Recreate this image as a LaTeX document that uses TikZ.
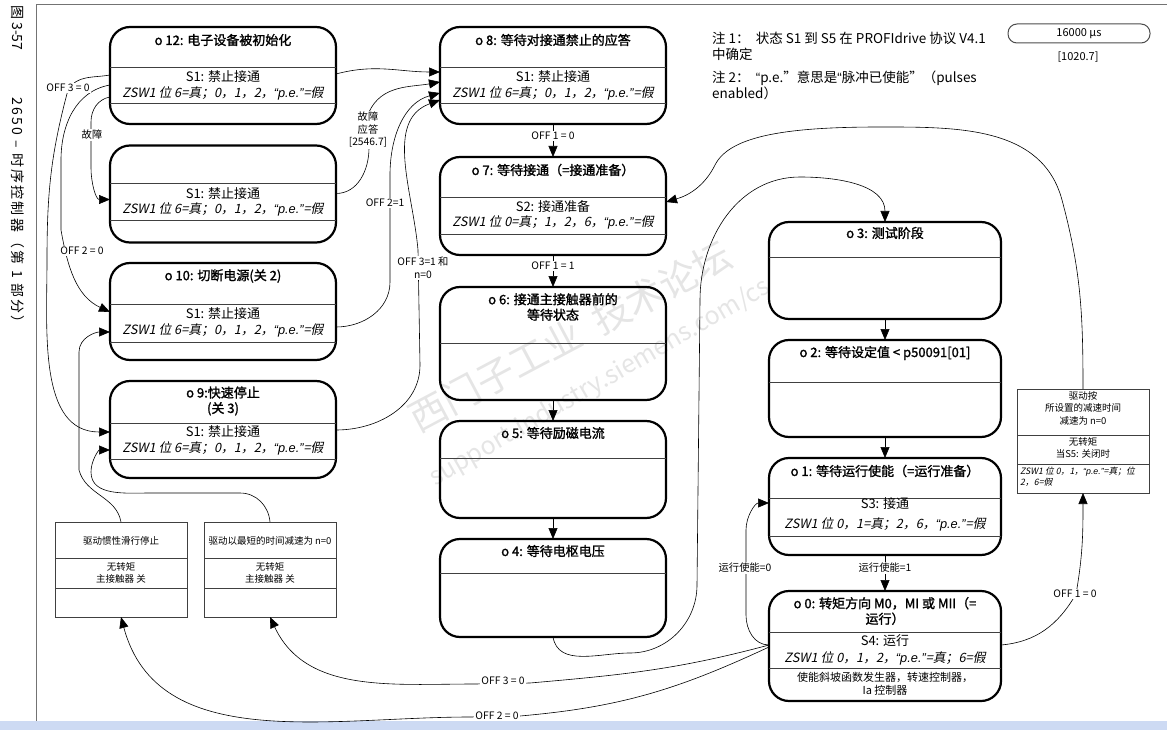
\documentclass[tikz,border=0pt]{standalone}
\usepackage{fontspec}
\setmainfont{Noto Sans CJK SC}[AutoFakeBold=1.5, AutoFakeSlant=0.2]
\newfontfamily\capfont{Noto Sans CJK SC}[LetterSpace=16]
\newfontfamily\latinfont{Liberation Sans}
\newcommand{\pequote}{{\latinfont “p.e.”}}
\usepackage{xcolor}
\usepackage{tikz}
\usetikzlibrary{arrows.meta, positioning, calc}
\definecolor{stripblue}{RGB}{205,218,243}

\begin{document}
\begin{tikzpicture}[x=1pt, y=-1pt,
    statebox/.style={draw, line width=2.2pt, rounded corners=20pt, minimum width=226pt, minimum height=97pt, inner sep=0pt, outer sep=0pt},
    statewide/.style={statebox, minimum width=232pt},
    infobox/.style={draw=black!75, line width=0.8pt, minimum width=132pt, minimum height=95pt, inner sep=0pt, outer sep=0pt},
    divline/.style={black!75, line width=0.8pt},
    ttl/.style={font=\fontsize{13}{15.5}\selectfont\bfseries, align=center, inner sep=0pt},
    srow/.style={font=\fontsize{13}{15}\selectfont, inner sep=0pt},
    irow/.style={font=\fontsize{12.8}{15}\selectfont\itshape, inner sep=0pt},
    infotxt/.style={font=\fontsize{9.5}{12.5}\selectfont, align=center, inner sep=0pt},
    lbl/.style={font=\fontsize{10.3}{12.5}\selectfont, align=center, fill=white, inner sep=1pt},
    trans/.style={-{Triangle[length=11pt, width=9pt]}, line width=0.6pt},
  ]
  \useasboundingbox (0,0) rectangle (1167,730);

  % Page frame and screen strip
  \draw[black!55, line width=1pt] (1167,5) -- (36,5) -- (36,721);
  \fill[stripblue] (0,721) rectangle (1167,730);

  % Side caption (rotated)
  \node[rotate=-90, anchor=west, font=\fontsize{14}{16}\selectfont, inner sep=0pt] (cap1) at (18,5) {图 3-57};
  \node[rotate=-90, anchor=west, font=\fontsize{14}{16}\selectfont\capfont, inner sep=0pt] (cap2) at (18,97) {2650 – 时序控制器（第 1 部分）};

  % Watermark
  \node[rotate=28, text=black!10, font=\fontsize{38}{40}\selectfont, inner sep=0pt] (wm1) at (570,336) {西门子工业\ \ 技术论坛};
  \node[rotate=30, text=black!10, font=\fontsize{25}{27}\selectfont, inner sep=0pt] (wm2) at (600,383) {support.industry.siemens.com/cs};

  % State boxes, left column
  \node[statebox] (s12) at (223,75.5) {};
  \node[statebox] (sfault) at (223,194) {};
  \node[statebox] (s10) at (223,311.5) {};
  \node[statebox] (s9) at (223,429.5) {};
  % middle column
  \node[statebox] (s8) at (553,75.5) {};
  \node[statebox, minimum height=98pt] (s7) at (553,206) {};
  \node[statebox, minimum height=113pt] (s6) at (553,343.5) {};
  \node[statebox] (s5) at (553,469.5) {};
  \node[statebox, minimum height=98pt] (s4) at (553,588) {};
  % right column
  \node[statewide] (s3) at (885,270.5) {};
  \node[statewide] (s2) at (885,388.5) {};
  \node[statewide] (s1) at (885,506.5) {};
  \node[statewide, minimum height=110pt] (s0) at (885,646) {};

  % Information boxes
  \node[infobox] (rcoast) at (121,569.5) {};
  \node[infobox] (rquick) at (270,569.5) {};
  \node[infobox, minimum height=104pt] (rramp) at (1083,441) {};

  % Compartment lines (box / distance from top)
  \foreach \bn/\off in {s12/40, s12/76, sfault/38, sfault/75, s10/41, s10/79, s9/42, s9/78,
      s8/40, s8/76, s7/40, s7/77, s6/56, s5/37, s4/34, s3/35, s2/42, s1/40, s1/78, s0/41, s0/77,
      rcoast/36, rcoast/66, rquick/36, rquick/66, rramp/46, rramp/75} {
    \draw[divline] ($(\bn.north west)+(0,\off)$) -- ($(\bn.north east)+(0,\off)$);
  }

  % Titles
  \node[ttl] (t12) at ($(s12.north)+(0,13)$) {o 12: 电子设备被初始化};
  \node[ttl] (t10) at ($(s10.north)+(0,13)$) {o 10: 切断电源(关 2)};
  \node[ttl] (t9) at ($(s9.north)+(0,20)$) {o 9:快速停止\\(关 3)};
  \node[ttl] (t8) at ($(s8.north)+(0,13)$) {o 8: 等待对接通禁止的应答};
  \node[ttl] (t7) at ($(s7.north)+(0,13)$) {o 7: 等待接通（=接通准备）};
  \node[ttl] (t6) at ($(s6.north)+(0,20)$) {o 6: 接通主接触器前的\\等待状态};
  \node[ttl] (t5) at ($(s5.north)+(0,12)$) {o 5: 等待励磁电流};
  \node[ttl] (t4) at ($(s4.north)+(0,12)$) {o 4: 等待电枢电压};
  \node[ttl] (t3) at ($(s3.north)+(0,11)$) {o 3: 测试阶段};
  \node[ttl] (t2) at ($(s2.north)+(0,13)$) {o 2: 等待设定值 < p50091[01]};
  \node[ttl] (t1) at ($(s1.north)+(0,13)$) {o 1: 等待运行使能（=运行准备）};
  \node[ttl] (t0) at ($(s0.north)+(0,20)$) {o 0: 转矩方向 M0，MI 或 MII（=\\运行）};

  % Status rows S1 (switching on inhibited)
  \foreach \bn/\off in {s12/50, sfault/48, s10/51, s9/51, s8/50} {
    \node[srow] at ($(\bn.north)+(0,\off)$) {S1: 禁止接通};
    \node[irow] at ($(\bn.north)+(0,\off+16)$) {ZSW1 位 6=真；0，1，2，\pequote=假};
  }
  \node[srow] (r7) at ($(s7.north)+(0,50)$) {S2: 接通准备};
  \node[irow] (z7) at ($(s7.north)+(0,65)$) {ZSW1 位 0=真；1，2，6，\pequote=假};
  \node[srow] (r1) at ($(s1.north)+(0,46)$) {S3: 接通};
  \node[irow] (z1) at ($(s1.north)+(0,66)$) {ZSW1 位 0，1=真；2，6，\pequote=假};
  \node[srow] (r0) at ($(s0.north)+(0,50)$) {S4: 运行};
  \node[irow] (z0) at ($(s0.north)+(0,67)$) {ZSW1 位 0，1，2，\pequote=真；6=假};
  \node[font=\fontsize{11}{13}\selectfont, align=center, inner sep=0pt] (f0) at ($(s0.north)+(0,92.5)$) {使能斜坡函数发生器，转速控制器，\\Ia 控制器};

  % Information box texts
  \node[infotxt] (c1) at ($(rcoast.north)+(0,19)$) {驱动惯性滑行停止};
  \node[infotxt] (c2) at ($(rcoast.north)+(0,51)$) {无转矩\\主接触器 关};
  \node[infotxt] (q1) at ($(rquick.north)+(0,19)$) {驱动以最短的时间减速为 n=0};
  \node[infotxt] (q2) at ($(rquick.north)+(0,51)$) {无转矩\\主接触器 关};
  \node[infotxt] (p1) at ($(rramp.north)+(0,19)$) {驱动按\\所设置的减速时间\\减速为 n=0};
  \node[infotxt] (p2) at ($(rramp.north)+(0,59)$) {无转矩\\当S5: 关闭时};
  \node[anchor=north west, align=left, font=\fontsize{8.8}{10.5}\selectfont\itshape, inner sep=0pt] (p3) at ($(rramp.north west)+(3,78)$) {ZSW1 位 0，1，\pequote=真；位\\2，6=假};

  % Notes and cycle time
  \node[anchor=north west, align=left, font=\fontsize{13.5}{16}\selectfont, inner sep=0pt] (note1) at (712,32) {注 1：\ \ 状态 S1 到 S5 在 PROFIdrive 协议 V4.1\\中确定};
  \node[anchor=north west, align=left, font=\fontsize{13.5}{16}\selectfont, inner sep=0pt] (note2) at (712,71) {注 2：\ \ {\latinfont “}p.e."意思是{\latinfont “}脉冲已使能"（pulses\\enabled）};
  \node[draw=black!70, line width=1pt, rounded corners=9pt, minimum width=142pt, minimum height=19pt, inner sep=0pt, font=\fontsize{11}{13}\selectfont] (tcyc) at (1079,33.5) {16000 µs};
  \node[font=\fontsize{11}{13}\selectfont, inner sep=0pt] (tpar) at (1078,57) {[1020.7]};

  % Transitions into o 8
  \draw[trans] ($(s12.north east)+(0,47)$) to[out=15,in=180] ($(s8.north west)+(0,45)$);
  \draw[trans] ($(sfault.north east)+(0,48)$) to[out=0,in=-90] (369,148) -- (369,112) to[out=65,in=190] ($(s8.north west)+(0,55)$);
  \draw[trans] ($(s10.north east)+(0,64)$) to[out=0,in=-90] (390,282) -- (390,175) to[out=90,in=195] ($(s8.north west)+(0,66)$);
  \draw[trans] ($(s9.north east)+(0,49)$) to[out=0,in=-90] (420,365) -- (418,250) to[out=95,in=200] ($(s8.north west)+(0,73)$);

  % Transitions out of o 12 (left side)
  \draw[trans] ($(s12.north west)+(0,48)$) to[out=190,in=60] (68,90) to[out=-105,in=90] (47,260) to[out=-90,in=180] ($(s9.north west)+(0,51)$);
  \draw[trans] ($(s12.north west)+(0,58)$) to[out=190,in=90] (61,160) -- (61,230) to[out=-80,in=155] ($(s10.north west)+(0,49)$);
  \draw[trans] ($(s12.north west)+(0,70)$) to[out=190,in=90] (91,122) -- (91,168) to[out=-90,in=180] ($(sfault.north west)+(0,54)$);

  % Stop reactions back to o 10 and o 9
  \draw[trans] (rcoast.north) to[out=100,in=-75] (79,470) -- (79,352) to[out=90,in=180] ($(s10.north west)+(0,69)$);
  \draw[trans] (rquick.north) to[out=95,in=0] (240,493) -- (150,493) to[out=180,in=-90] (91,472) to[out=90,in=180] ($(s9.north west)+(0,69)$);

  % Main sequence
  \draw[trans] (s8) -- node[lbl, pos=0.36] (loff10) {OFF 1 = 0} (s7);
  \draw[trans] (s7) -- node[lbl, pos=0.34] (loff11) {OFF 1 = 1} (s6);
  \draw[trans] (s6) -- (s5);
  \draw[trans] (s5) -- (s4);
  \draw[trans] (s4.south) to[out=-80,in=180] (630,653) to[out=0,in=-90] (697,585) -- (700,300) to[out=90,in=180] (800,177) to[out=0,in=90] (s3.north);
  \draw[trans] (s3) -- (s2);
  \draw[trans] (s2) -- (s1);
  \draw[trans] (s1) -- node[lbl, pos=0.36] (len1) {运行使能=1} (s0);

  % Transitions out of o 0
  \draw[trans] ($(s0.north west)+(0,54)$) to[out=180,in=-90] (746,615) -- (746,530) to[out=90,in=180] ($(s1.north west)+(0,45)$);
  \draw[trans] ($(s0.north east)+(0,54)$) to[out=5,in=-120] (1076,594) to[out=80,in=-90] (rramp.south);
  \draw[trans] ($(s0.north west)+(0,54)$) to[out=-165,in=5] (530,683) -- (475,684) to[out=180,in=-65] (rquick.south);
  \draw[trans] ($(s0.north west)+(0,56)$) to[out=-155,in=5] (520,716) -- (470,717) to[out=180,in=-75] (rcoast.south);
  \draw[trans] (rramp.north) to[out=90,in=-75] (1062,200) to[out=105,in=0] (880,127)
    .. controls (790,127) and (730,135) .. (715,165)
    .. controls (705,185) and (690,195) .. ($(s7.north east)+(0,45)$);

  % Transition labels
  \node[lbl] (loff30) at (68,88) {OFF 3 = 0};
  \node[lbl] (loff20) at (82,251) {OFF 2 = 0};
  \node[lbl] (lfault) at (92,135) {故障};
  \node[lbl] (lack) at (368,130) {故障\\应答\\{[2546.7]}};
  \node[lbl] (loff21) at (385,203) {OFF 2=1};
  \node[lbl] (loff31) at (423,268) {OFF 3=1 和\\n=0};
  \node[lbl] (len0) at (745,568) {运行使能=0};
  \node[lbl] (loff10b) at (1075,594) {OFF 1 = 0};
  \node[lbl] (loff30b) at (503,681) {OFF 3 = 0};
  \node[lbl] (loff20b) at (497,716) {OFF 2 = 0};
\end{tikzpicture}
\end{document}
